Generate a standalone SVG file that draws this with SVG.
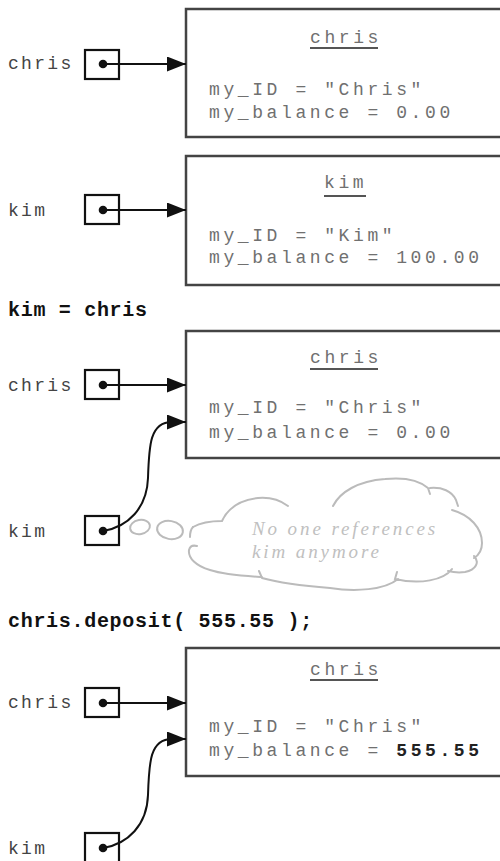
<svg xmlns="http://www.w3.org/2000/svg" width="500" height="861" viewBox="0 0 500 861">
<defs>
<style>
.obj{fill:#fff;stroke:#444;stroke-width:2.5}
.ref{fill:none;stroke:#111;stroke-width:2.2}
.lbl{font-family:"Liberation Mono","Courier New",monospace;font-size:18px;letter-spacing:2.3px;fill:#444}
.fld{font-family:"Liberation Mono","Courier New",monospace;font-size:18px;letter-spacing:3.6px;fill:#707070}
.ttl{font-family:"Liberation Mono","Courier New",monospace;font-size:18px;letter-spacing:3.6px;fill:#707070}
.ul{stroke:#555;stroke-width:1.8}
.code{font-family:"Liberation Mono","Courier New",monospace;font-size:20px;font-weight:bold;letter-spacing:0.7px;fill:#111}
.bold{font-weight:bold;fill:#222}
.wire{fill:none;stroke:#111;stroke-width:2}
.cloud{fill:none;stroke:#bbb;stroke-width:2;stroke-linecap:round}
.ctext{font-family:"Liberation Serif","Times New Roman",serif;font-style:italic;font-size:19px;letter-spacing:2.9px;fill:#c0c0c0}
</style>
<marker id="ah" markerWidth="20" markerHeight="16" refX="19" refY="7.5" orient="auto" markerUnits="userSpaceOnUse">
<path d="M0,0 L19,7.5 L0,15 Z" fill="#111"/>
</marker>
</defs>

<!-- Panel 1 -->
<g id="chris-ref-1">
<text class="lbl" x="8" y="69">chris</text>
<rect class="ref" x="85" y="50" width="34" height="29"/>
<circle cx="103" cy="64" r="4.3" fill="#111"/>
</g>
<g id="chris-obj-1">
<rect class="obj" x="186" y="9" width="320" height="128"/>
<text class="ttl" x="310" y="43">chris</text>
<line class="ul" x1="310" y1="48" x2="378" y2="48"/>
<text class="fld" x="209" y="95">my_ID = "Chris"</text>
<text class="fld" x="209" y="118">my_balance = 0.00</text>
</g>

<!-- Panel 2 -->
<g id="kim-ref-2">
<text class="lbl" x="8" y="216">kim</text>
<rect class="ref" x="85" y="195" width="34" height="29"/>
<circle cx="103" cy="210" r="4.3" fill="#111"/>
</g>
<g id="kim-obj-2">
<rect class="obj" x="186" y="156" width="320" height="129"/>
<text class="ttl" x="324" y="188">kim</text>
<line class="ul" x1="324" y1="196" x2="366" y2="196"/>
<text class="fld" x="209" y="241">my_ID = "Kim"</text>
<text class="fld" x="209" y="263">my_balance = 100.00</text>
</g>

<text class="code" x="8" y="316">kim = chris</text>

<!-- Panel 3 -->
<g id="chris-ref-3">
<text class="lbl" x="8" y="391">chris</text>
<rect class="ref" x="85" y="370" width="34" height="29"/>
<circle cx="103" cy="385" r="4.3" fill="#111"/>
</g>
<g id="kim-ref-3">
<text class="lbl" x="8" y="537">kim</text>
<rect class="ref" x="85" y="516" width="34" height="29"/>
<circle cx="103" cy="531" r="4.3" fill="#111"/>
</g>
<g id="chris-obj-3">
<rect class="obj" x="186" y="331" width="320" height="127"/>
<text class="ttl" x="310" y="363">chris</text>
<line class="ul" x1="310" y1="369" x2="378" y2="369"/>
<text class="fld" x="209" y="413">my_ID = "Chris"</text>
<text class="fld" x="209" y="438">my_balance = 0.00</text>
</g>
<g id="cloud">
<ellipse class="cloud" cx="140" cy="527" rx="10" ry="7" transform="rotate(-10 140 527)"/>
<ellipse class="cloud" cx="170" cy="530" rx="13" ry="9" transform="rotate(10 170 530)"/>
<path class="cloud" d="M193,527 C200,523 212,521 222,521 C228,508 240,500 258,498 C270,497 280,500 288,506
M333,506 C340,492 358,481 385,479 C405,477 420,481 428,488 L430,494
M430,488 C442,487 452,491 456,500 L458,506
M452,510 C470,515 482,528 482,543 C482,550 479,555 474,558
M474,556 C480,562 476,570 465,572 C458,573 452,572 448,571
M452,569 C444,580 420,585 395,579 L397,572
M398,579 C385,590 355,592 330,588 C305,586 280,583 262,578 L259,571
M262,577 C245,576 225,575 210,570 C196,566 188,558 189,550 C190,546 193,545 197,546"/>
<path class="cloud" d="M190,537 C190,532 191,529 193,527"/>
<text class="ctext" x="252" y="535">No one references</text>
<text class="ctext" x="252" y="558">kim anymore</text>
</g>

<text class="code" x="8" y="627">chris.deposit( 555.55 );</text>

<!-- Panel 4 -->
<g id="chris-ref-4">
<text class="lbl" x="8" y="708">chris</text>
<rect class="ref" x="85" y="688" width="34" height="29"/>
<circle cx="103" cy="703" r="4.3" fill="#111"/>
</g>
<g id="kim-ref-4">
<text class="lbl" x="8" y="854">kim</text>
<rect class="ref" x="85" y="833" width="34" height="32"/>
<circle cx="103" cy="848" r="4.3" fill="#111"/>
</g>
<g id="chris-obj-4">
<rect class="obj" x="186" y="648" width="320" height="128"/>
<text class="ttl" x="310" y="675">chris</text>
<line class="ul" x1="310" y1="680" x2="378" y2="680"/>
<text class="fld" x="209" y="732">my_ID = "Chris"</text>
<text class="fld" x="209" y="756">my_balance = <tspan class="bold">555.55</tspan></text>
</g>

<g id="connectors">
<line class="wire" x1="103" y1="64" x2="186" y2="64" marker-end="url(#ah)"/>
<line class="wire" x1="103" y1="210" x2="186" y2="210" marker-end="url(#ah)"/>
<line class="wire" x1="103" y1="385" x2="186" y2="385" marker-end="url(#ah)"/>
<path class="wire" d="M103,531 C128,527 147,508 148,478 C149,445 150,422 172,422 L186,422" marker-end="url(#ah)"/>
<line class="wire" x1="103" y1="703" x2="186" y2="703" marker-end="url(#ah)"/>
<path class="wire" d="M103,848 C128,844 147,825 148,795 C149,762 150,739 172,739 L186,739" marker-end="url(#ah)"/>
</g>
</svg>
